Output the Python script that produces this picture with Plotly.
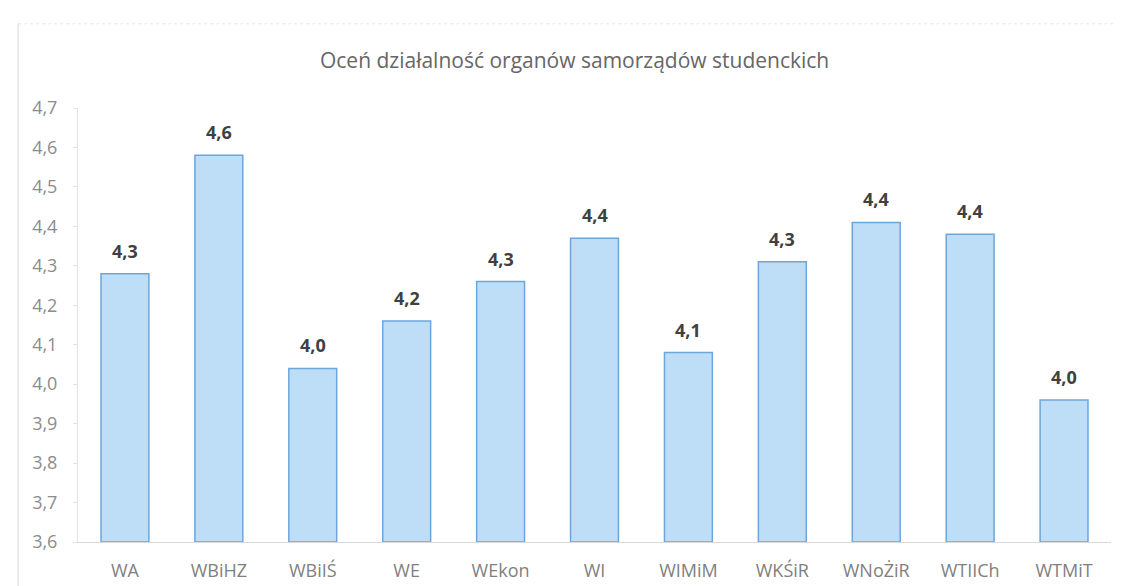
import plotly.graph_objects as go

categories = ["WA", "WBiHZ", "WBiIŚ", "WE", "WEkon", "WI", "WIMiM", "WKŚiR", "WNoŻiR", "WTIICh", "WTMiT"]
values = [4.28, 4.58, 4.04, 4.16, 4.26, 4.37, 4.08, 4.31, 4.41, 4.38, 3.96]
axis_base = 3.6
y_ticks = [3.6, 3.7, 3.8, 3.9, 4.0, 4.1, 4.2, 4.3, 4.4, 4.5, 4.6, 4.7]
y_tick_labels = ["3,6", "3,7", "3,8", "3,9", "4,0", "4,1", "4,2", "4,3", "4,4", "4,5", "4,6", "4,7"]
title_text = "Oceń działalność organów samorządów studenckich"

FONT = "Open Sans"

fig = go.Figure()
fig.add_trace(go.Bar(
    x=categories,
    y=[v - axis_base for v in values],
    base=axis_base,
    marker=dict(color="#BEDDF6", line=dict(color="#6CA6DC", width=1.5)),
    customdata=values,
    hovertemplate="%{x}: %{customdata}<extra></extra>",
))

for c, v in zip(categories, values):
    fig.add_annotation(
        x=c, y=v, text=f"{v:.1f}".replace(".", ","),
        showarrow=False, yanchor="bottom", yshift=9,
        font=dict(family=FONT, size=18, color="#404040", weight="bold"),
    )

fig.update_layout(
    width=1122, height=586,
    margin=dict(l=70, r=19, t=100, b=48),
    paper_bgcolor="white", plot_bgcolor="white",
    bargap=0.49,
    showlegend=False,
    separators=", ",
    title=dict(text=title_text, x=0.505, xanchor="center", y=0.91, yanchor="middle",
               font=dict(family=FONT, size=21, color="#666666")),
    xaxis=dict(
        tickfont=dict(family=FONT, size=18, color="#7f7f7f"),
        showline=True, linecolor="#d9d9d9", linewidth=1,
        showgrid=False, ticks="", ticklabelstandoff=12,
    ),
    yaxis=dict(
        range=[3.6, 4.7], tickvals=y_ticks, ticktext=y_tick_labels,
        tickfont=dict(family=FONT, size=18, color="#8c8c8c"),
        showline=True, linecolor="#e3e3e3", linewidth=1,
        ticks="outside", ticklen=4, tickcolor="#e3e3e3",
        showgrid=False, zeroline=False, ticklabelstandoff=12,
    ),
)

# faint frame of the original chart object
fig.add_shape(type="line", xref="paper", yref="paper",
              x0=-0.058, x1=-0.058, y0=-0.11, y1=1.194,
              line=dict(color="#d6d6d6", width=1))
fig.add_shape(type="line", xref="paper", yref="paper",
              x0=-0.058, x1=1.01, y0=1.194, y1=1.194,
              line=dict(color="#e6e6e6", width=1, dash="dot"))

fig.write_html("out.html")
